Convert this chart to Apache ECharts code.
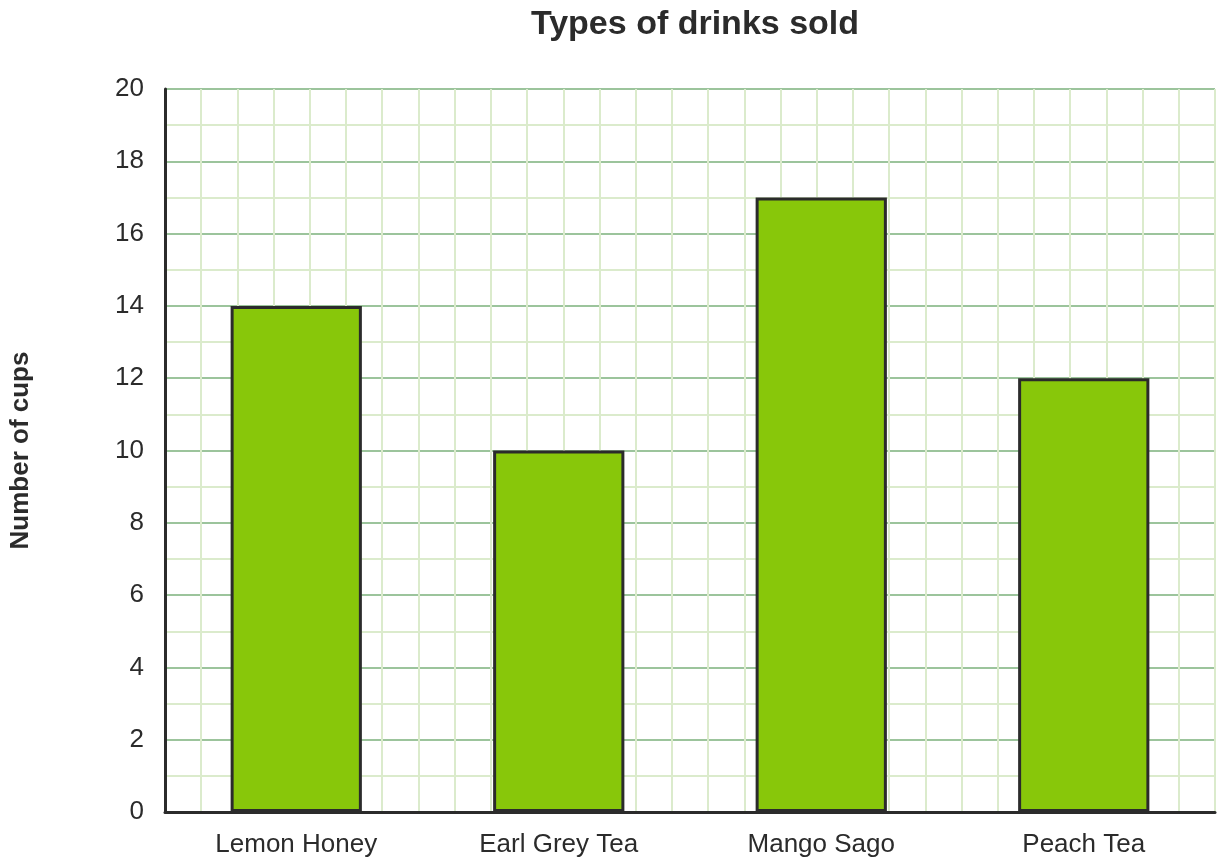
<!DOCTYPE html>
<html>
<head>
<meta charset="utf-8">
<script src="https://cdn.jsdelivr.net/npm/echarts@6/dist/echarts.min.js"></script>
<style>
  html, body { margin: 0; padding: 0; background: #fff; }
  #chart { width: 1224px; height: 866px; }
</style>
</head>
<body>
<div id="chart"></div>
<script>
// drinks and cups sold
var drinks = ['Lemon Honey', 'Earl Grey Tea', 'Mango Sago', 'Peach Tea'];
var cups = [14, 10, 17, 12];
var yTicks = [0, 2, 4, 6, 8, 10, 12, 14, 16, 18, 20];
var gridColumns = 29; // light vertical lines of the graph paper

var myChart = echarts.init(document.getElementById('chart'));

myChart.setOption({
    backgroundColor: '#ffffff',
    animation: false,
    title: {
        text: 'Types of drinks sold',
        left: 690,
        top: 3,
        textAlign: 'center',
        textStyle: {
            fontFamily: 'Liberation Sans, Arial, sans-serif',
            fontSize: 34,
            fontWeight: 'bold',
            color: '#2b2b2b'
        }
    },
    grid: {
        left: 163,
        right: 9,
        top: 89,
        bottom: 54
    },
    xAxis: [{
        type: 'category',
        data: drinks,
        axisLine: { lineStyle: { color: '#2b2b2b', width: 3 } },
        axisTick: { show: false },
        splitLine: { show: false },
        axisLabel: {
            margin: 20,
            fontFamily: 'Liberation Sans, Arial, sans-serif',
            fontSize: 26,
            color: '#2b2b2b'
        }
    }, {
        // only draws the vertical grid lines
        type: 'value',
        position: 'bottom',
        min: 0,
        max: gridColumns,
        interval: 1,
        axisLine: { show: false },
        axisTick: { show: false },
        axisLabel: { show: false },
        splitLine: { show: true, lineStyle: { color: '#dbebcc', width: 2 } }
    }],
    yAxis: {
        type: 'value',
        min: yTicks[0],
        max: yTicks[yTicks.length - 1],
        interval: 2,
        name: 'Number of cups',
        nameLocation: 'middle',
        nameGap: 131,
        nameTextStyle: {
            fontFamily: 'Liberation Sans, Arial, sans-serif',
            fontSize: 26,
            fontWeight: 'bold',
            color: '#2b2b2b'
        },
        axisLine: { show: true, lineStyle: { color: '#2b2b2b', width: 3 } },
        axisTick: { show: false },
        axisLabel: {
            margin: 21,
            fontFamily: 'Liberation Sans, Arial, sans-serif',
            fontSize: 26,
            color: '#2b2b2b'
        },
        splitLine: { show: true, lineStyle: { color: '#9cc49c', width: 2 } },
        minorTick: { show: false, splitNumber: 2 },
        minorSplitLine: { show: true, lineStyle: { color: '#dbebcc', width: 2 } }
    },
    series: [{
        type: 'bar',
        xAxisIndex: 0,
        data: cups,
        barWidth: '50%',
        itemStyle: {
            color: '#88c70a',
            borderColor: '#2b2b2b',
            borderWidth: 3
        },
        z: 3
    }]
});
</script>
</body>
</html>
